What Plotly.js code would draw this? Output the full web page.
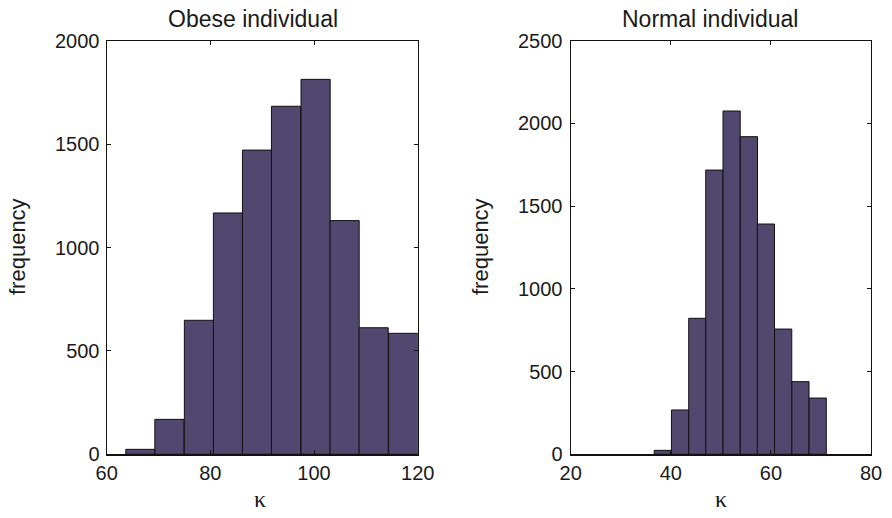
<!DOCTYPE html>
<html>
<head>
<meta charset="utf-8">
<script src="https://cdn.plot.ly/plotly-3.0.1.min.js"></script>
<style>html,body{margin:0;padding:0;background:#fff;}#chart{width:892px;height:518px;}</style>
</head>
<body>
<div id="chart"></div>
<script>
// Data
const obeseCenters = [66.5, 72.1, 77.8, 83.4, 89.0, 94.6, 100.3, 105.9, 111.5, 117.2];
const obeseCounts  = [24, 169, 648, 1167, 1471, 1683, 1813, 1130, 612, 585];
const normalCenters = [38.4, 41.85, 45.3, 48.7, 52.15, 55.6, 59.0, 62.45, 65.9, 69.35];
const normalCounts  = [24, 268, 822, 1718, 2075, 1920, 1392, 757, 439, 340];
const obeseXTicks = [60, 80, 100, 120];
const obeseYTicks = [0, 500, 1000, 1500, 2000];
const normalXTicks = [20, 40, 60, 80];
const normalYTicks = [0, 500, 1000, 1500, 2000, 2500];
const titles = ["Obese individual", "Normal individual"];
const yLabel = "frequency";
const xLabel = "κ";

const obeseBinWidth = 5.63;
const normalBinWidth = 3.44;
const barFill = '#52476f';
const sans = '"Liberation Sans", Arial, Helvetica, sans-serif';
const serif = '"Liberation Serif", "DejaVu Serif", serif';

const traces = [
  {type:'bar', x: obeseCenters, y: obeseCounts, width: obeseBinWidth,
   marker:{color: barFill, line:{color:'#111', width:1}}, xaxis:'x', yaxis:'y', hoverinfo:'x+y'},
  {type:'bar', x: normalCenters, y: normalCounts, width: normalBinWidth,
   marker:{color: barFill, line:{color:'#111', width:1}}, xaxis:'x2', yaxis:'y2', hoverinfo:'x+y'}
];

function axis(extra){
  return Object.assign({
    showline:true, linecolor:'#111', linewidth:1.2, mirror:'ticks',
    ticks:'inside', ticklen:4, tickcolor:'#111', tickwidth:1,
    showgrid:false, zeroline:false, fixedrange:true,
    tickfont:{family:sans, size:20, color:'#1a1a1a'}
  }, extra);
}

const yDom = [63.7/518, 477.3/518];
const layout = {
  width:892, height:518,
  margin:{l:0, r:0, t:0, b:0},
  paper_bgcolor:'#fff', plot_bgcolor:'#fff',
  showlegend:false, bargap:0,
  xaxis: axis({domain:[106.7/892, 417.7/892], range:[60,120], tickmode:'array', tickvals:obeseXTicks, anchor:'y'}),
  yaxis: axis({domain:yDom, range:[0,2000], tickmode:'array', tickvals:obeseYTicks, anchor:'x', ticklabelstandoff:2}),
  xaxis2: axis({domain:[570.7/892, 871/892], range:[20,80], tickmode:'array', tickvals:normalXTicks, anchor:'y2'}),
  yaxis2: axis({domain:yDom, range:[0,2500], tickmode:'array', tickvals:normalYTicks, anchor:'x2', ticklabelstandoff:3}),
  annotations:[
    {text:titles[0], xref:'paper', yref:'paper', x:252.8/892, y:1-19/518, showarrow:false, xanchor:'center', yanchor:'middle', font:{family:sans, size:23, color:'#1a1a1a'}},
    {text:titles[1], xref:'paper', yref:'paper', x:710/892, y:1-19/518, showarrow:false, xanchor:'center', yanchor:'middle', font:{family:sans, size:23, color:'#1a1a1a'}},
    {text:yLabel, xref:'paper', yref:'paper', x:17/892, y:1-247/518, textangle:-90, showarrow:false, xanchor:'center', yanchor:'middle', font:{family:sans, size:22, color:'#1a1a1a'}},
    {text:yLabel, xref:'paper', yref:'paper', x:480/892, y:1-247/518, textangle:-90, showarrow:false, xanchor:'center', yanchor:'middle', font:{family:sans, size:22, color:'#1a1a1a'}},
    {text:xLabel, xref:'paper', yref:'paper', x:260/892, y:1-499/518, showarrow:false, xanchor:'center', yanchor:'middle', font:{family:serif, size:24, color:'#1a1a1a'}},
    {text:xLabel, xref:'paper', yref:'paper', x:721/892, y:1-499/518, showarrow:false, xanchor:'center', yanchor:'middle', font:{family:serif, size:24, color:'#1a1a1a'}}
  ]
};

Plotly.newPlot('chart', traces, layout, {staticPlot:true, displayModeBar:false});
</script>
</body>
</html>
